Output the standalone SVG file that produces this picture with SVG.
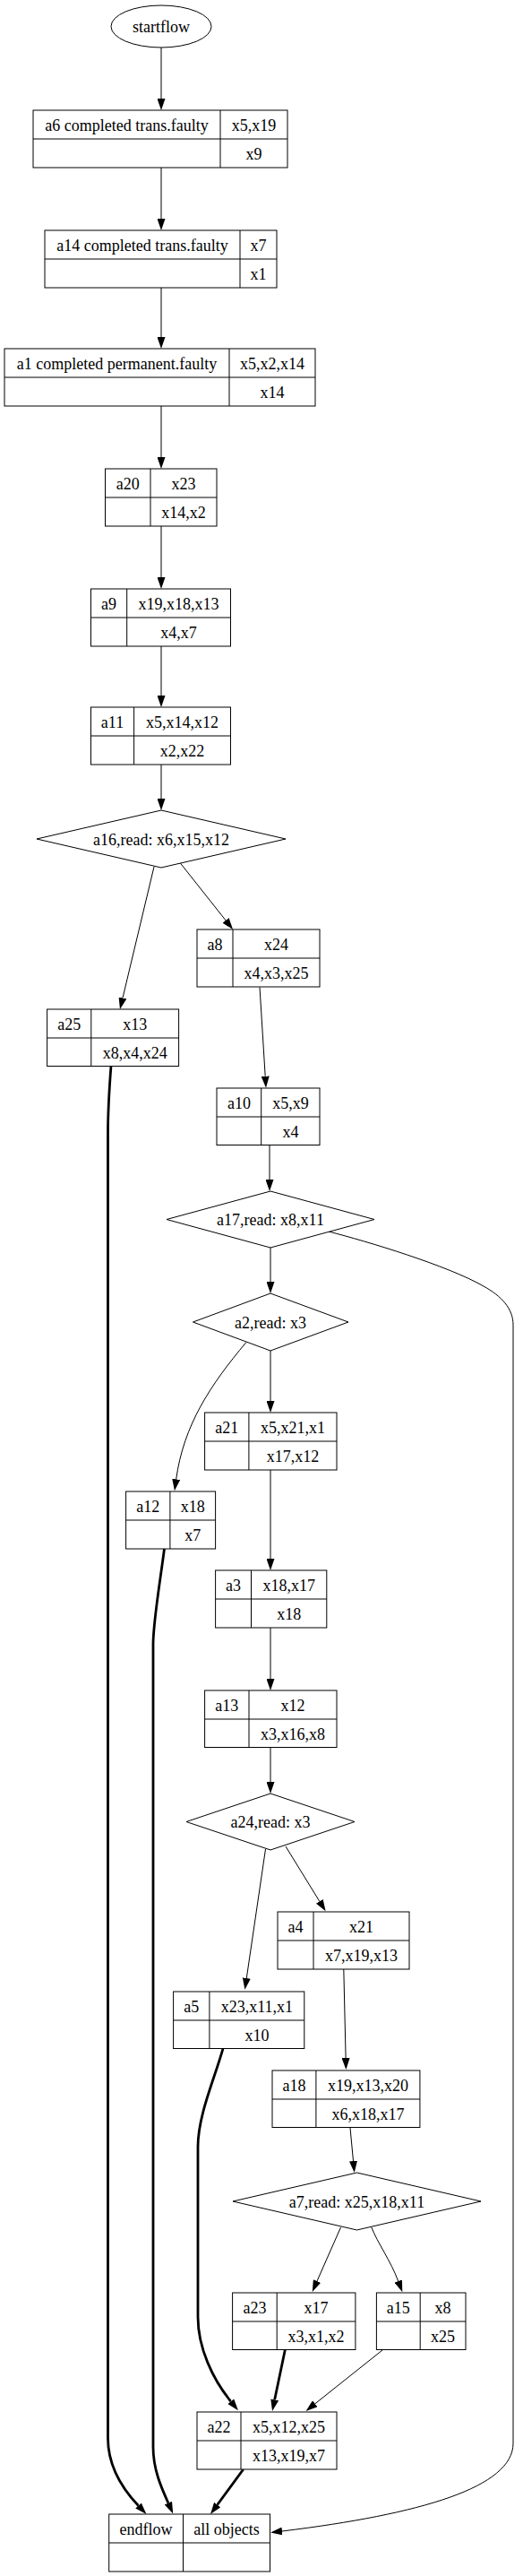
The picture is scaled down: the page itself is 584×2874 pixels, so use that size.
<svg xmlns="http://www.w3.org/2000/svg" width="584" height="2874" viewBox="0 0 584 2874">
<style>
.bg{fill:#fff}
.n rect,.n ellipse,.n polygon{fill:#fff;stroke:#000;stroke-width:1}
.n line{stroke:#000;stroke-width:1}
.n text{font-family:"Liberation Serif","Times New Roman",serif;font-size:18px;fill:#000;text-anchor:middle}
.e path{fill:none;stroke:#000}
.e .t{stroke-width:1;marker-end:url(#ah)}
.e .b{stroke-width:2.8;marker-end:url(#ah)}
</style>
<defs>
<marker id="ah" viewBox="0 0 13 9" markerWidth="13" markerHeight="9" refX="0" refY="4.5" orient="auto" markerUnits="userSpaceOnUse"><path d="M0,0 L13,4.5 L0,9 z" fill="#000"/></marker>
</defs>
<rect class="bg" x="0" y="0" width="584" height="2874"/>
<g id="edges" class="e">
<path class="t" d="M180,53 L180,110"/>
<path class="t" d="M180,187 L180,244"/>
<path class="t" d="M180,320 L180,376"/>
<path class="t" d="M180,453 L180,510"/>
<path class="t" d="M180,587 L180,644"/>
<path class="t" d="M180,720 L180,776"/>
<path class="t" d="M180,853 L180,891"/>
<path class="t" d="M172,967 L137,1113.4"/>
<path class="t" d="M201.4,963 L252,1026.8"/>
<path class="t" d="M290,1101.5 L296.2,1200.7"/>
<path class="t" d="M301,1277 L301,1316"/>
<path class="t" d="M302,1392 L302,1430"/>
<path class="t" d="M367,1374 C410,1385 500,1412 540,1435 C560,1446 573,1460 573,1478 L573,2726 C573,2775 470,2805 315,2824"/>
<path class="t" d="M302,1507 L302,1563"/>
<path class="t" d="M275,1497.5 C235,1545 205,1590 196.7,1650.3"/>
<path class="t" d="M302,1640 L302,1739"/>
<path class="t" d="M302,1816 L302,1873"/>
<path class="t" d="M302,1949 L302,1988"/>
<path class="t" d="M296.5,2063 L275.3,2207"/>
<path class="t" d="M319,2060 L356.8,2121.3"/>
<path class="t" d="M383.8,2197 L386.1,2296"/>
<path class="t" d="M391,2374 L394.5,2411"/>
<path class="t" d="M380.5,2485 L354,2545"/>
<path class="t" d="M414.8,2485 C422,2503 436,2522 444.7,2545"/>
<path class="t" d="M427,2622 L351.8,2681.8"/>
<path class="b" d="M318.3,2621.7 L306.7,2677.3"/>
<path class="b" d="M249,2285.5 C240,2318 221,2360 221,2395 L221,2585 C221,2620 238,2655 257.7,2679.2"/>
<path class="b" d="M124,1189 C122,1215 120.5,1240 120.5,1265 L120.5,2720 C120.5,2750 135,2775 154.5,2795.5"/>
<path class="b" d="M183.5,1728 C178,1770 171,1810 171,1835 L171,2730 C171,2755 180,2775 187.9,2792.6"/>
<path class="b" d="M271.7,2755 L242.7,2794.5"/>
</g>
<g id="startflow" class="n"><ellipse cx="180" cy="29.5" rx="56" ry="23.5"/><text x="180" y="36">startflow</text></g>
<g id="a6" class="n"><rect x="37" y="123" width="284" height="64"/><line x1="37" y1="155" x2="321" y2="155"/><line x1="246" y1="123" x2="246" y2="187"/><text x="141.5" y="145.5">a6 completed trans.faulty</text><text x="283.5" y="145.5">x5,x19</text><text x="283.5" y="177.5">x9</text></g>
<g id="a14" class="n"><rect x="50" y="257" width="259" height="64"/><line x1="50" y1="289" x2="309" y2="289"/><line x1="268" y1="257" x2="268" y2="321"/><text x="159" y="279.5">a14 completed trans.faulty</text><text x="288.5" y="279.5">x7</text><text x="288.5" y="311.5">x1</text></g>
<g id="a1" class="n"><rect x="5" y="389" width="347" height="64"/><line x1="5" y1="421" x2="352" y2="421"/><line x1="256" y1="389" x2="256" y2="453"/><text x="130.5" y="411.5">a1 completed permanent.faulty</text><text x="304" y="411.5">x5,x2,x14</text><text x="304" y="443.5">x14</text></g>
<g id="a20" class="n"><rect x="117.5" y="523" width="124.5" height="64"/><line x1="117.5" y1="555" x2="242" y2="555"/><line x1="168" y1="523" x2="168" y2="587"/><text x="142.7" y="545.5">a20</text><text x="205" y="545.5">x23</text><text x="205" y="577.5">x14,x2</text></g>
<g id="a9" class="n"><rect x="101.5" y="657" width="156" height="64"/><line x1="101.5" y1="689" x2="257.5" y2="689"/><line x1="141.7" y1="657" x2="141.7" y2="721"/><text x="121.6" y="679.5">a9</text><text x="199.6" y="679.5">x19,x18,x13</text><text x="199.6" y="711.5">x4,x7</text></g>
<g id="a11" class="n"><rect x="101.5" y="789" width="156" height="64"/><line x1="101.5" y1="821" x2="257.5" y2="821"/><line x1="149.6" y1="789" x2="149.6" y2="853"/><text x="125.5" y="811.5">a11</text><text x="203.5" y="811.5">x5,x14,x12</text><text x="203.5" y="843.5">x2,x22</text></g>
<g id="a16" class="n"><polygon points="180,904 319,936 180,968 41,936"/><text x="180" y="942.5">a16,read: x6,x15,x12</text></g>
<g id="a8" class="n"><rect x="220" y="1037" width="137" height="64"/><line x1="220" y1="1069" x2="357" y2="1069"/><line x1="260" y1="1037" x2="260" y2="1101"/><text x="240" y="1059.5">a8</text><text x="308.5" y="1059.5">x24</text><text x="308.5" y="1091.5">x4,x3,x25</text></g>
<g id="a25" class="n"><rect x="52.6" y="1126" width="147" height="63.5"/><line x1="52.6" y1="1158" x2="199.6" y2="1158"/><line x1="101.8" y1="1126" x2="101.8" y2="1189.5"/><text x="77.2" y="1148.5">a25</text><text x="150.7" y="1148.5">x13</text><text x="150.7" y="1180.5">x8,x4,x24</text></g>
<g id="a10" class="n"><rect x="242" y="1214" width="115" height="63.5"/><line x1="242" y1="1246" x2="357" y2="1246"/><line x1="291.7" y1="1214" x2="291.7" y2="1277.5"/><text x="266.9" y="1236.5">a10</text><text x="324.4" y="1236.5">x5,x9</text><text x="324.4" y="1268.5">x4</text></g>
<g id="a17" class="n"><polygon points="302,1329 418,1360.5 302,1392 186,1360.5"/><text x="302" y="1367">a17,read: x8,x11</text></g>
<g id="a2" class="n"><polygon points="302,1443 389,1475 302,1507 215.5,1475"/><text x="302" y="1481.5">a2,read: x3</text></g>
<g id="a21" class="n"><rect x="228.6" y="1576" width="147.4" height="64"/><line x1="228.6" y1="1608" x2="376" y2="1608"/><line x1="277.9" y1="1576" x2="277.9" y2="1640"/><text x="253.3" y="1598.5">a21</text><text x="327" y="1598.5">x5,x21,x1</text><text x="327" y="1630.5">x17,x12</text></g>
<g id="a12" class="n"><rect x="140.6" y="1664" width="100" height="64"/><line x1="140.6" y1="1696" x2="240.6" y2="1696"/><line x1="189.9" y1="1664" x2="189.9" y2="1728"/><text x="165.3" y="1686.5">a12</text><text x="215.3" y="1686.5">x18</text><text x="215.3" y="1718.5">x7</text></g>
<g id="a3" class="n"><rect x="240.6" y="1752" width="124.2" height="64"/><line x1="240.6" y1="1784" x2="364.8" y2="1784"/><line x1="280.5" y1="1752" x2="280.5" y2="1816"/><text x="260.6" y="1774.5">a3</text><text x="322.7" y="1774.5">x18,x17</text><text x="322.7" y="1806.5">x18</text></g>
<g id="a13" class="n"><rect x="228.6" y="1886" width="147.4" height="63.5"/><line x1="228.6" y1="1918" x2="376" y2="1918"/><line x1="278" y1="1886" x2="278" y2="1949.5"/><text x="253.3" y="1908.5">a13</text><text x="327" y="1908.5">x12</text><text x="327" y="1940.5">x3,x16,x8</text></g>
<g id="a24" class="n"><polygon points="302,2001 396,2032.5 302,2064 208,2032.5"/><text x="302" y="2039">a24,read: x3</text></g>
<g id="a4" class="n"><rect x="310" y="2133" width="147" height="64"/><line x1="310" y1="2165" x2="457" y2="2165"/><line x1="350" y1="2133" x2="350" y2="2197"/><text x="330" y="2155.5">a4</text><text x="403.5" y="2155.5">x21</text><text x="403.5" y="2187.5">x7,x19,x13</text></g>
<g id="a5" class="n"><rect x="193.6" y="2222" width="146.2" height="63.5"/><line x1="193.6" y1="2254" x2="339.8" y2="2254"/><line x1="233.9" y1="2222" x2="233.9" y2="2285.5"/><text x="213.8" y="2244.5">a5</text><text x="286.9" y="2244.5">x23,x11,x1</text><text x="286.9" y="2276.5">x10</text></g>
<g id="a18" class="n"><rect x="304" y="2310" width="164.9" height="63.5"/><line x1="304" y1="2342" x2="468.9" y2="2342"/><line x1="352.9" y1="2310" x2="352.9" y2="2373.5"/><text x="328.5" y="2332.5">a18</text><text x="410.9" y="2332.5">x19,x13,x20</text><text x="410.9" y="2364.5">x6,x18,x17</text></g>
<g id="a7" class="n"><polygon points="398.5,2424 537,2456 398.5,2488 260,2456"/><text x="398.5" y="2462.5">a7,read: x25,x18,x11</text></g>
<g id="a23" class="n"><rect x="259.6" y="2558" width="137.3" height="63.5"/><line x1="259.6" y1="2590" x2="396.9" y2="2590"/><line x1="309.2" y1="2558" x2="309.2" y2="2621.5"/><text x="284.4" y="2580.5">a23</text><text x="353" y="2580.5">x17</text><text x="353" y="2612.5">x3,x1,x2</text></g>
<g id="a15" class="n"><rect x="420.4" y="2558" width="99.6" height="63.5"/><line x1="420.4" y1="2590" x2="520" y2="2590"/><line x1="469.2" y1="2558" x2="469.2" y2="2621.5"/><text x="444.8" y="2580.5">a15</text><text x="494.6" y="2580.5">x8</text><text x="494.6" y="2612.5">x25</text></g>
<g id="a22" class="n"><rect x="220" y="2691" width="156" height="64"/><line x1="220" y1="2723" x2="376" y2="2723"/><line x1="269" y1="2691" x2="269" y2="2755"/><text x="244.5" y="2713.5">a22</text><text x="322.5" y="2713.5">x5,x12,x25</text><text x="322.5" y="2745.5">x13,x19,x7</text></g>
<g id="endflow" class="n"><rect x="121.7" y="2805" width="179.8" height="64"/><line x1="121.7" y1="2837" x2="301.5" y2="2837"/><line x1="204.5" y1="2805" x2="204.5" y2="2869"/><text x="163.1" y="2827.5">endflow</text><text x="253" y="2827.5">all objects</text></g>
</svg>
